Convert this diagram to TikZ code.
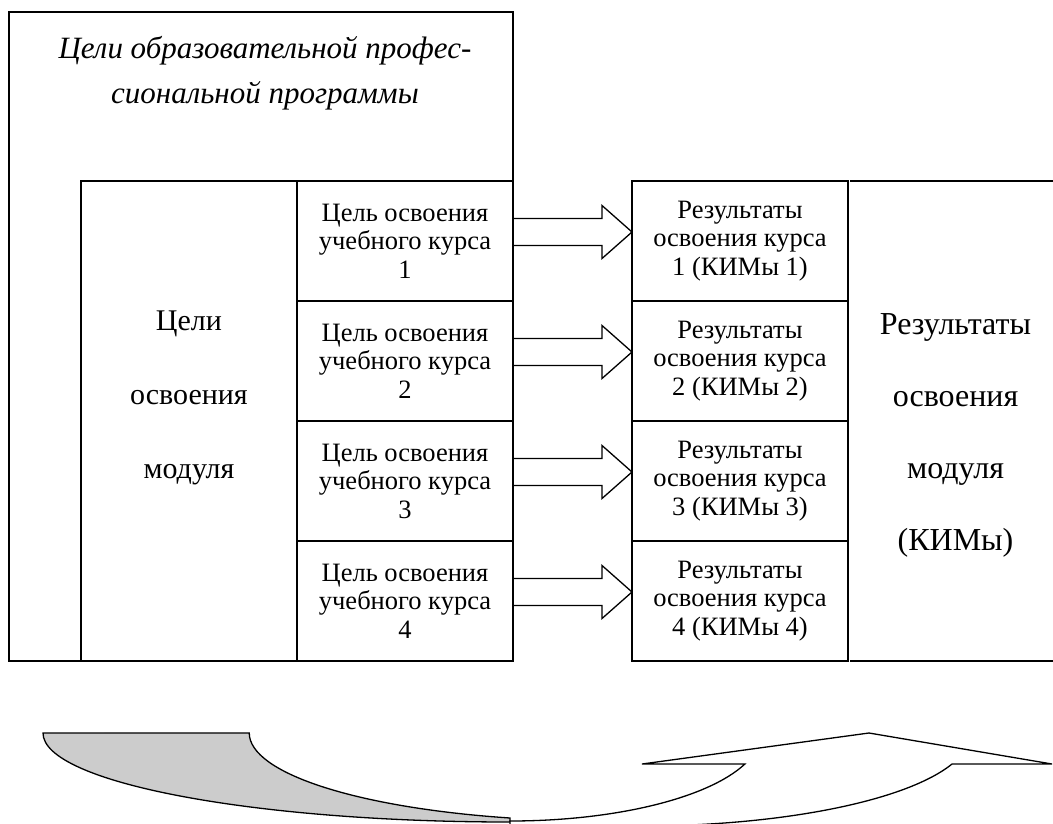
\documentclass[tikz,border=0pt]{standalone}
\usepackage{fontspec}
\setmainfont{Liberation Serif}
\usetikzlibrary{positioning,calc}
\definecolor{cmedge}{RGB}{0,0,0}
\definecolor{cmback}{RGB}{204,204,204}
\tikzset{
  cmbox/.style={
    draw=cmedge, line width=1.7pt, inner sep=0pt, outer sep=0pt,
    align=center
  },
  crs/.style={cmbox, minimum width=216pt, minimum height=120pt,
    font=\fontsize{26.5}{28.5}\selectfont},
  big/.style={align=center, inner sep=0pt, font=\fontsize{30}{74}\selectfont},
  bigr/.style={big, font=\fontsize{32}{72}\selectfont},
  ttl/.style={align=center, inner sep=0pt, font=\fontsize{31}{45}\selectfont\itshape},
  blk/.style={draw=cmedge, line width=1.3pt, line join=miter},
  band/.style={draw=cmedge, line width=1.3pt}
}

\begin{document}
\begin{tikzpicture}[x=1pt, y=1pt, node distance=0pt]
  \useasboundingbox (0,0) rectangle (1053,-823);
  \node[cmbox, anchor=north west, minimum width=504pt, minimum height=649pt] (prog) at (9,-12) {};
  \node[ttl] (progtxt) at ($(prog.north)+(4,-61)$) {Цели образовательной профес-\\сиональной программы};
  \node[cmbox, anchor=north west, minimum width=216pt, minimum height=480pt] (mod) at (81,-181) {};
  \node[big] (modtxt) at ($(mod.center)+(0,23)$) {Цели\\освоения\\модуля};
  \node[crs, anchor=north west] (c1) at (297,-181) {Цель освоения\\учебного курса\\1};
  \node[crs, below=of c1] (c2) {Цель освоения\\учебного курса\\2};
  \node[crs, below=of c2] (c3) {Цель освоения\\учебного курса\\3};
  \node[crs, below=of c3] (c4) {Цель освоения\\учебного курса\\4};
  \node[crs, anchor=north west] (r1) at (632,-181) {Результаты\\освоения курса\\1 (КИМы 1)};
  \node[crs, below=of r1] (r2) {Результаты\\освоения курса\\2 (КИМы 2)};
  \node[crs, below=of r2] (r3) {Результаты\\освоения курса\\3 (КИМы 3)};
  \node[crs, below=of r3] (r4) {Результаты\\освоения курса\\4 (КИМы 4)};
  \node[inner sep=0pt, outer sep=0pt, anchor=north west, minimum width=203pt, minimum height=480pt] (res) at (850,-181) {};
  \draw[cmedge, line width=1.7pt] (res.north west) -- (res.north east) (res.south west) -- (res.south east);
  \node[bigr] (restxt) at ($(res.center)+(4,-14)$) {Результаты\\освоения\\модуля\\(КИМы)};
  \foreach \i in {1,...,4}
    \draw[blk] ($(c\i.east)+(0,22.5)$) -- ++(89,0) -- ++(0,13) -- ($(r\i.west)+(0,9)$)
      -- ($(c\i.east)+(89,-17.5)$) -- ++(0,13) -- ($(c\i.east)+(0,-4.5)$);
  \begin{scope}
    \clip (0,0) rectangle (1053,-823);
    \filldraw[band, fill=cmback] (43,-733) arc[start angle=180, end angle=270, x radius=467pt, y radius=89pt]
      -- (510,-818) arc[start angle=255.1, end angle=180, x radius=351pt, y radius=88pt] -- cycle;
    \filldraw[band, fill=white] (510,-821) arc[start angle=270, end angle=339.4, x radius=251pt, y radius=88pt]
      -- (642,-764) -- (869,-733) -- (1052,-764) -- (952,-764)
      arc[start angle=341, end angle=265, x radius=330pt, y radius=92pt] -- (510,-826) -- cycle;
  \end{scope}
\end{tikzpicture}
\end{document}
